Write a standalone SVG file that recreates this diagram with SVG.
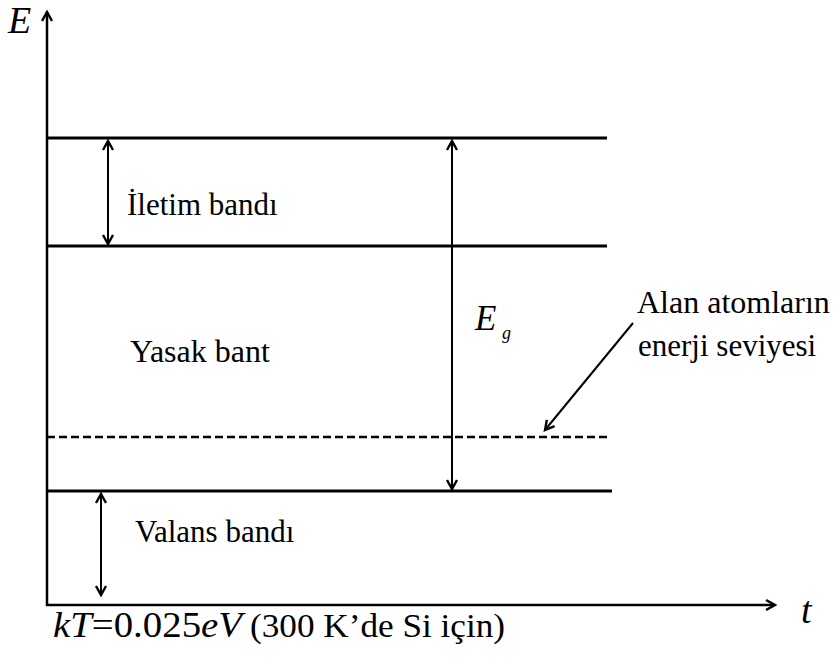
<svg xmlns="http://www.w3.org/2000/svg" width="835" height="657" viewBox="0 0 835 657">
<defs>
<marker id="ah" markerWidth="14" markerHeight="14" refX="11" refY="7" orient="auto-start-reverse" markerUnits="userSpaceOnUse">
<path d="M2,2 L11,7 L2,12" fill="none" stroke="#000" stroke-width="2.4"/>
</marker>
</defs>
<style>
.t{font-family:'Liberation Serif','Times New Roman',serif;fill:#000}
.i{font-family:'Liberation Serif','Times New Roman',serif;font-style:italic;fill:#000}
.band{stroke:#000;stroke-width:3;fill:none}
.ax{stroke:#000;stroke-width:2.5;fill:none}
.arr{stroke:#000;stroke-width:2;fill:none}
</style>
<rect width="835" height="657" fill="#fff"/>
<g id="axes">
<line class="ax" x1="47" y1="606" x2="47" y2="12" marker-end="url(#ah)"/>
<line class="ax" x1="46" y1="605" x2="775" y2="605" marker-end="url(#ah)"/>
</g>
<g id="bands">
<line class="band" x1="47" y1="138" x2="607" y2="138"/>
<line class="band" x1="47" y1="246" x2="607" y2="246"/>
<line class="ax" x1="47" y1="437" x2="607" y2="437" stroke-dasharray="8,4"/>
<line class="band" x1="47" y1="491" x2="612" y2="491"/>
</g>
<g id="connectors">
<line class="arr" x1="108" y1="141" x2="108" y2="244" marker-start="url(#ah)" marker-end="url(#ah)"/>
<line class="arr" x1="452" y1="141" x2="452" y2="489" marker-start="url(#ah)" marker-end="url(#ah)"/>
<line class="arr" x1="101" y1="494" x2="101" y2="595" marker-start="url(#ah)" marker-end="url(#ah)"/>
<line class="arr" x1="633" y1="323" x2="545" y2="430" marker-end="url(#ah)"/>
</g>
<g id="labels">
<text class="i" x="8" y="33" font-size="38">E</text>
<text class="t" x="127" y="215" font-size="31">İletim bandı</text>
<text class="t" x="130" y="362" font-size="32">Yasak bant</text>
<text class="i" x="475" y="330" font-size="35">E</text>
<text class="i" x="502" y="339" font-size="18">g</text>
<text class="t" x="637" y="313" font-size="32">Alan atomların</text>
<text class="t" x="638" y="356" font-size="31">enerji seviyesi</text>
<text class="t" x="135" y="542" font-size="31">Valans bandı</text>
<text class="i" x="801" y="623" font-size="38">t</text>
<text class="t" x="53" y="637" font-size="36" textLength="189" lengthAdjust="spacingAndGlyphs"><tspan font-style="italic">kT</tspan>=0.025<tspan font-style="italic">eV</tspan></text>
<text class="t" x="250" y="637" font-size="33" textLength="255" lengthAdjust="spacingAndGlyphs">(300 K’de Si için)</text>
</g>
</svg>
